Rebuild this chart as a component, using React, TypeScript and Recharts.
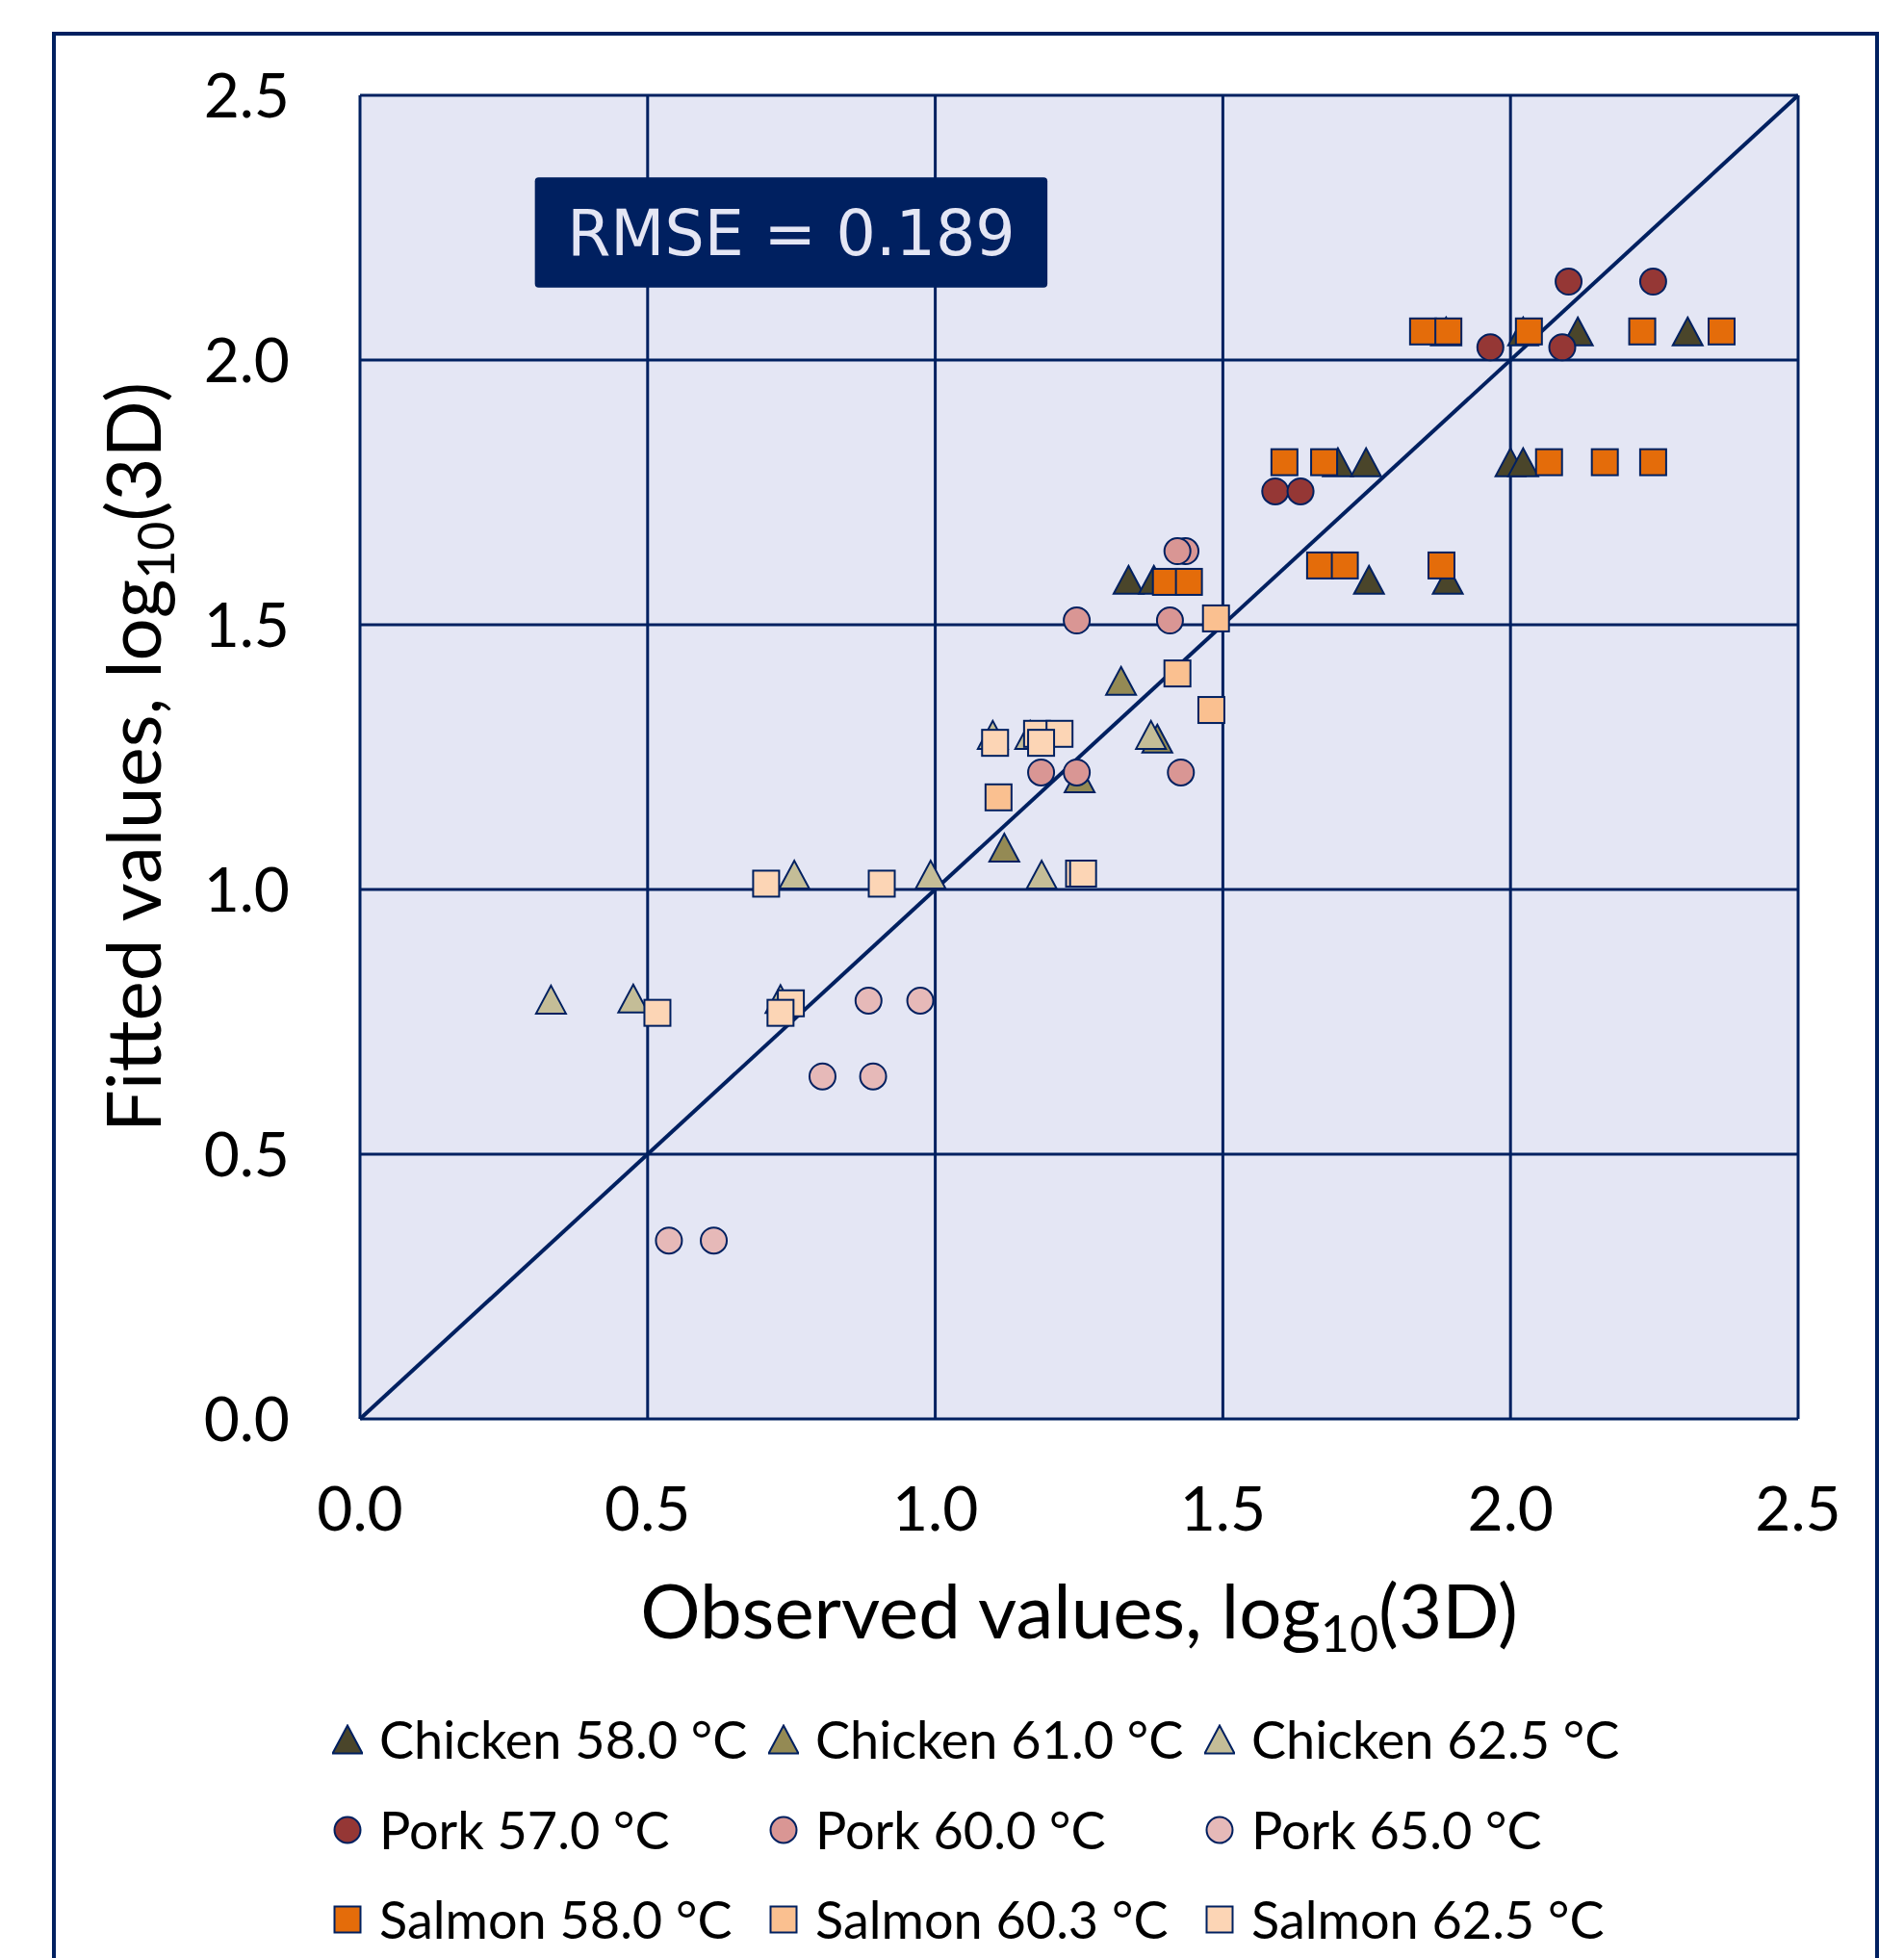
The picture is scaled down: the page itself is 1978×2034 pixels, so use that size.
import React from 'react'
import {
  ScatterChart,
  Scatter,
  XAxis,
  YAxis,
  CartesianGrid,
  ReferenceArea,
  Legend,
  Label,
} from 'recharts'

const chicken58 = [
  [1.336, 1.585], [1.38, 1.585], [1.7, 1.807], [1.749, 1.807], [1.754, 1.585], [1.891, 1.585],
  [1.888, 2.054], [2.0, 1.807], [2.022, 1.807], [2.022, 2.054], [2.117, 2.054], [2.308, 2.054],
]
const chicken61 = [[1.12, 1.079], [1.251, 1.21], [1.323, 1.394], [1.386, 1.285]]
const chicken625 = [
  [0.332, 0.792], [0.475, 0.794], [0.731, 0.793], [0.755, 1.028], [0.992, 1.028],
  [1.185, 1.028], [1.1, 1.292], [1.165, 1.292], [1.375, 1.292],
]
const pork57 = [[2.101, 2.148], [2.248, 2.148], [1.965, 2.024], [2.09, 2.024], [1.591, 1.752], [1.635, 1.752]]
const pork60 = [[1.246, 1.508], [1.408, 1.508], [1.435, 1.639], [1.421, 1.639], [1.184, 1.221], [1.246, 1.221], [1.427, 1.221]]
const pork65 = [[0.884, 0.79], [0.974, 0.79], [0.804, 0.647], [0.892, 0.647], [0.537, 0.337], [0.615, 0.337]]
const salmon58 = [
  [1.848, 2.054], [1.892, 2.054], [2.032, 2.054], [2.229, 2.054], [2.367, 2.054],
  [1.607, 1.807], [1.676, 1.807], [2.067, 1.807], [2.164, 1.807], [2.248, 1.807],
  [1.669, 1.612], [1.712, 1.612], [1.88, 1.612], [1.401, 1.581], [1.441, 1.581],
]
const salmon603 = [[1.488, 1.512], [1.421, 1.408], [1.48, 1.339], [1.11, 1.174]]
const salmon625 = [
  [0.706, 1.011], [0.907, 1.011], [1.25, 1.03], [1.257, 1.03], [1.177, 1.294], [1.216, 1.294],
  [1.104, 1.277], [1.184, 1.277], [0.517, 0.767], [0.749, 0.785], [0.731, 0.767],
]

const seriesNames = [
  'Chicken 58.0 °C', 'Chicken 61.0 °C', 'Chicken 62.5 °C',
  'Pork 57.0 °C', 'Pork 60.0 °C', 'Pork 65.0 °C',
  'Salmon 58.0 °C', 'Salmon 60.3 °C', 'Salmon 62.5 °C',
]
const seriesColors = ['#4a452a', '#948a54', '#c4bd97', '#953735', '#d99694', '#e6b9b8', '#e46c0a', '#fac090', '#fcd5b5']
const seriesShapes = ['triangle', 'triangle', 'triangle', 'circle', 'circle', 'circle', 'square', 'square', 'square']
const seriesData = [chicken58, chicken61, chicken625, pork57, pork60, pork65, salmon58, salmon603, salmon625]

const axisTicks = [0, 0.5, 1, 1.5, 2, 2.5]
const identityLine = [{ x: 0, y: 0 }, { x: 2.5, y: 2.5 }]
const rmseText = 'RMSE = 0.189'

const NAVY = '#002060'
const PLOT_BG = '#e4e6f4'
const FONT = 'Lato, "Open Sans", sans-serif'

function Marker({ kind, cx, cy, fill }: { kind: string; cx: number; cy: number; fill: string }) {
  if (kind === 'triangle') {
    const w = 31, h = 29
    return (
      <polygon
        points={`${cx},${cy - h / 2} ${cx + w / 2},${cy + h / 2} ${cx - w / 2},${cy + h / 2}`}
        fill={fill}
        stroke={NAVY}
        strokeWidth={2}
      />
    )
  }
  if (kind === 'circle') {
    return <circle cx={cx} cy={cy} r={13.5} fill={fill} stroke={NAVY} strokeWidth={2} />
  }
  return <rect x={cx - 13.5} y={cy - 13.5} width={27} height={27} fill={fill} stroke={NAVY} strokeWidth={2} />
}

function XTitle({ viewBox }: any) {
  const { x, y, width } = viewBox
  return (
    <text x={x + width / 2} y={y + 228} textAnchor="middle" fontSize={78} fontFamily={FONT} fill="#000">
      Observed values, log
      <tspan dy={14} fontSize={52}>10</tspan>
      <tspan dy={-14}>(3D)</tspan>
    </text>
  )
}

function YTitle({ viewBox }: any) {
  const cx = 139
  const cy = viewBox.y + viewBox.height / 2
  return (
    <text
      x={cx}
      y={cy}
      dy={28}
      textAnchor="middle"
      transform={`rotate(-90, ${cx}, ${cy})`}
      fontSize={78}
      fontFamily={FONT}
      fill="#000"
    >
      Fitted values, log
      <tspan dy={14} fontSize={52}>10</tspan>
      <tspan dy={-14}>(3D)</tspan>
    </text>
  )
}

function LegendGrid() {
  return (
    <div style={{ position: 'relative', width: '100%', height: '100%' }}>
      {seriesNames.map((name, i) => {
        const col = i % 3
        const row = Math.floor(i / 3)
        return (
          <div
            key={name}
            style={{
              position: 'absolute',
              left: 345 + col * 453,
              top: 47 + row * 93.5 - 40,
              height: 80,
              display: 'flex',
              alignItems: 'center',
              whiteSpace: 'nowrap',
            }}
          >
            <svg width={32} height={32} style={{ marginRight: 17 }}>
              <Marker kind={seriesShapes[i]} cx={16} cy={16} fill={seriesColors[i]} />
            </svg>
            <span style={{ fontFamily: FONT, fontSize: 54, color: '#000', lineHeight: 1 }}>{name}</span>
          </div>
        )
      })}
    </div>
  )
}

export default function App() {
  return (
    <div style={{ position: 'relative', width: 1978, height: 2034, overflow: 'hidden', background: '#fff' }}>
      <style>{`body { margin: 0; }`}</style>
      <ScatterChart width={1978} height={2034} margin={{ top: 99, right: 110, bottom: 460, left: 0 }}>
        <CartesianGrid stroke={NAVY} strokeWidth={3} fill={PLOT_BG} fillOpacity={1} />
        <XAxis
          type="number"
          dataKey="x"
          domain={[0, 2.5]}
          ticks={axisTicks}
          height={100}
          axisLine={false}
          tickLine={false}
          tickSize={0}
          tickMargin={71}
          tickFormatter={v => v.toFixed(1)}
          tick={{ fill: '#000', fontSize: 64, fontFamily: FONT }}
        >
          <Label content={XTitle} />
        </XAxis>
        <YAxis
          type="number"
          dataKey="y"
          domain={[0, 2.5]}
          ticks={axisTicks}
          width={374}
          axisLine={false}
          tickLine={false}
          tickSize={0}
          tickMargin={73}
          tickFormatter={v => v.toFixed(1)}
          tick={{ fill: '#000', fontSize: 64, fontFamily: FONT }}
        >
          <Label content={YTitle} />
        </YAxis>
        <ReferenceArea
          x1={0.304}
          x2={1.195}
          y1={2.137}
          y2={2.345}
          shape={(p: any) => <rect x={p.x} y={p.y} width={p.width} height={p.height} rx={4} fill={NAVY} />}
          label={{ value: rmseText, position: 'center', fill: PLOT_BG, fontSize: 65, fontFamily: '"DejaVu Sans", sans-serif' }}
        />
        <Scatter
          data={identityLine}
          line={{ stroke: NAVY, strokeWidth: 4 }}
          shape={() => <g />}
          isAnimationActive={false}
        />
        {seriesData.map((pts, i) => (
          <Scatter
            key={seriesNames[i]}
            name={seriesNames[i]}
            data={pts.map(([x, y]) => ({ x, y }))}
            isAnimationActive={false}
            shape={(p: any) => <Marker kind={seriesShapes[i]} cx={p.cx} cy={p.cy} fill={seriesColors[i]} />}
          />
        ))}
        <Legend
          layout="horizontal"
          verticalAlign="middle"
          align="center"
          wrapperStyle={{ top: 1760, left: 0, width: 1978, height: 274 }}
          content={() => <LegendGrid />}
        />
      </ScatterChart>
      <div
        style={{
          position: 'absolute',
          left: 54,
          top: 33,
          width: 1890,
          height: 2100,
          border: `4px solid ${NAVY}`,
          pointerEvents: 'none',
        }}
      />
    </div>
  )
}
